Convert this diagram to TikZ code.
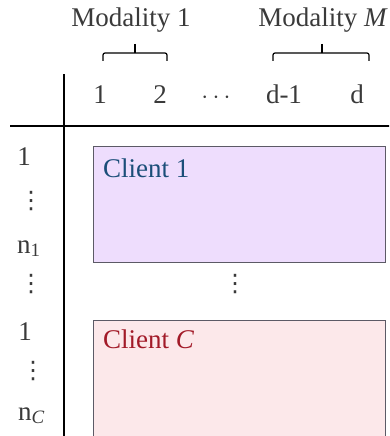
\documentclass[tikz,border=0pt]{standalone}
\usepackage{fontspec}
\setmainfont{Liberation Serif}
\newfontfamily\symfont{DejaVu Sans}
\definecolor{labelgray}{HTML}{3A3A3A}
\definecolor{boxedge}{HTML}{5C5A66}
\definecolor{purplefill}{HTML}{EEDDFD}
\definecolor{pinkfill}{HTML}{FCE8EA}
\definecolor{clientblue}{HTML}{1B4E79}
\definecolor{clientred}{HTML}{A21A28}
\begin{document}
\begin{tikzpicture}[x=1pt,y=-1pt,
  txt/.style={inner sep=0pt, anchor=base, text=labelgray, font=\fontsize{27}{32}\selectfont},
  dts/.style={inner sep=0pt, anchor=center, text=labelgray, font=\symfont\fontsize{24}{28}\selectfont},
  axis/.style={line width=1.6pt, black},
  bracket/.style={line width=1.2pt, black, rounded corners=2pt},
  clientbox/.style={draw=boxedge, line width=1.2pt, inner sep=0pt, anchor=north west,
    minimum width=292pt},
  clientlabel/.style={inner sep=0pt, anchor=base west, font=\fontsize{27}{32}\selectfont}]
\useasboundingbox (0,0) rectangle (389,436);
\clip (0,0) rectangle (389,436);

% client blocks
\node[clientbox, fill=purplefill, minimum height=116pt] (client1) at (93,146) {};
\node[clientbox, fill=pinkfill, minimum height=130pt] (clientC) at (93,320) {};
\node[clientlabel, text=clientblue] (lab1) at (103,177) {Client 1};
\node[clientlabel, text=clientred] (labC) at (103,348) {Client \textit{C}};
\node[dts] (midvdots) at (235,284) {⋮};

% axes
\coordinate (vtop) at (64,74);
\coordinate (vbot) at (64,440);
\coordinate (hleft) at (10,126);
\coordinate (hright) at (392,126);
\draw[axis] (vtop) -- (vbot);
\draw[axis] (hleft) -- (hright);

% column indices
\node[txt] (c1) at (100,103) {1};
\node[txt] (c2) at (160,103) {2};
\node[txt] (cdots) at (216,103) {$\cdots$};
\node[txt] (cd1) at (284,103) {d-1};
\node[txt] (cd) at (357,103) {d};

% modality groupings
\node[txt] (mod1) at (131,27) {Modality 1};
\node[txt] (modM) at (323,27) {Modality \textit{M}};
\coordinate (b1l) at (103,61);
\coordinate (b1r) at (167,61);
\coordinate (b1m) at (135,44);
\coordinate (bMl) at (273,61);
\coordinate (bMr) at (369,61);
\coordinate (bMm) at (322,44);
\draw[bracket] (b1l) |- (b1m |- 0,53) -| (b1r);
\draw[line width=1.2pt] (b1m) -- (b1m |- 0,53);
\draw[bracket] (bMl) |- (bMm |- 0,53) -| (bMr);
\draw[line width=1.2pt] (bMm) -- (bMm |- 0,53);

% row indices
\node[txt] (r1) at (24,165) {1};
\node[dts] (rv1) at (31,201) {⋮};
\node[txt, anchor=base west] (rn1) at (17,253) {n\textsubscript{1}};
\node[dts] (rv2) at (31,284) {⋮};
\node[txt] (r2) at (25,340) {1};
\node[dts] (rv3) at (33,371) {⋮};
\node[txt, anchor=base west] (rnC) at (18,420) {n\textsubscript{\textit{C}}};
\end{tikzpicture}
\end{document}
